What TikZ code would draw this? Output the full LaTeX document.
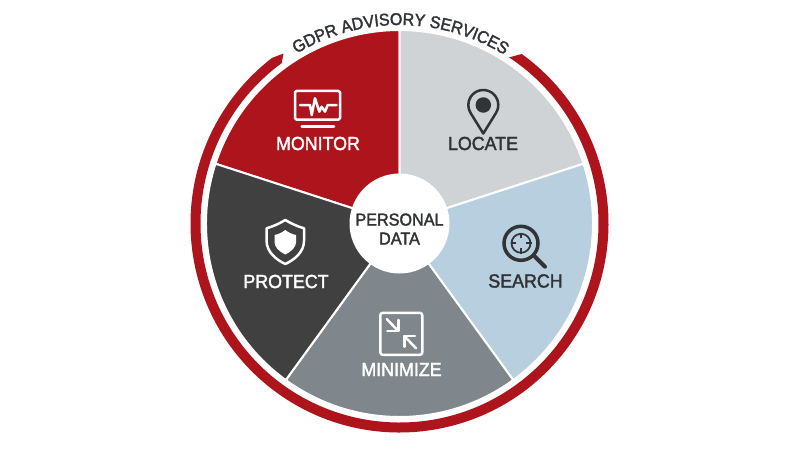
\documentclass[tikz,border=0pt]{standalone}
\usepackage{fontspec}
\setmainfont{Liberation Sans}
\newfontfamily\labelfont[FakeBold=2,FakeStretch=0.94]{Liberation Sans}
\usetikzlibrary{decorations.text}
\definecolor{ringred}{HTML}{AE141C}
\definecolor{locategray}{HTML}{CFD3D6}
\definecolor{searchblue}{HTML}{B7CFDF}
\definecolor{minimizegray}{HTML}{7F878D}
\definecolor{protectdark}{HTML}{404040}
\definecolor{inkdark}{HTML}{313336}
\def\wedgepart[#1](#2:#3){\draw[#1, draw=white, line width=0.4mm] (0, 0) -- (#2:3.87) arc (#2:#3:3.87) -- cycle;}
\tikzset{
	wedgelabel/.style={font=\labelfont\fontsize{10.8}{10.8}\selectfont},
	iconline/.style={line width=0.5mm, line cap=round, line join=round},
}

\begin{document}
\begin{tikzpicture}
		%%%%% START %%%%%
		\useasboundingbox (-7.99, -4.53) rectangle (8.01, 4.47);
		
		\wedgepart[fill=ringred](90:162);
		\wedgepart[fill=locategray](18:90);
		\wedgepart[fill=searchblue](-54:18);
		\wedgepart[fill=minimizegray](-126:-54);
		\wedgepart[fill=protectdark](162:234);
		
		\fill[ringred] (54.2:4.18) arc (54.2:-232.4:4.18) -- (-2.32, 3.40) -- (126.3:3.98) arc (-233.7:56.6:3.98) -- cycle;
		
		\path[decorate, decoration={text along path, text align=center, text={|\labelfont\fontsize{9.7}{9.7}\selectfont\color{inkdark}|GDPR ADVISORY SERVICES}}] (120.9:3.97) arc (120.9:58.4:3.97);
		
		\node[circle, fill=white, minimum size=2cm, inner sep=0pt] (personal) at (0, 0) {};
		\node[align=center, text=inkdark, font=\labelfont\fontsize{9.8}{10.8}\selectfont] (personaldata) at (0, -0.11) {PERSONAL\\DATA};
		
		\node[wedgelabel, text=white] (monitor) at (-1.63, 1.6) {MONITOR};
		\node[wedgelabel, text=inkdark] (locate) at (1.67, 1.6) {LOCATE};
		\node[wedgelabel, text=inkdark] (search) at (2.52, -1.15) {SEARCH};
		\node[wedgelabel, text=white] (minimize) at (0.04, -2.92) {MINIMIZE};
		\node[wedgelabel, text=white] (protect) at (-2.27, -1.16) {PROTECT};
		
		% monitor
		\draw[iconline, white, rounded corners=0.3mm] (-2.09, 2.077) rectangle (-1.19, 2.651);
		\draw[iconline, white] (-1.956, 1.936) -- (-1.31, 1.936);
		\draw[iconline, white] (-1.99, 2.37) -- (-1.79, 2.37) -- (-1.756, 2.17) -- (-1.69, 2.504) -- (-1.604, 2.236) -- (-1.556, 2.336) -- (-1.49, 2.236) -- (-1.436, 2.37) -- (-1.256, 2.37);
		
		% locate
		\draw[iconline, inkdark] (1.676, 1.80) -- (1.930, 2.211) arc (-32:212:0.3) -- cycle;
		\fill[inkdark] (1.676, 2.37) circle (0.155);
		
		% search
		\draw[line width=0.7mm, inkdark] (2.43, -0.396) circle (0.34);
		\draw[line width=0.35mm, inkdark] (2.43, -0.396) circle (0.19);
		\draw[line width=0.35mm, inkdark] (2.43, -0.186) -- (2.43, -0.296);
		\draw[line width=0.35mm, inkdark] (2.43, -0.606) -- (2.43, -0.496);
		\draw[line width=0.35mm, inkdark] (2.22, -0.396) -- (2.33, -0.396);
		\draw[line width=0.35mm, inkdark] (2.64, -0.396) -- (2.53, -0.396);
		\draw[line width=0.8mm, inkdark, line cap=round] (2.71, -0.664) -- (2.91, -0.864);
		
		% minimize
		\draw[iconline, white, rounded corners=0.5mm] (-0.384, -2.626) rectangle (0.456, -1.786);
		\draw[iconline, white] (-0.256, -1.91) -- (-0.024, -2.15);
		\draw[iconline, white] (-0.024, -1.93) -- (-0.024, -2.15) -- (-0.244, -2.15);
		\draw[iconline, white] (0.33, -2.496) -- (0.096, -2.25);
		\draw[iconline, white] (0.096, -2.464) -- (0.096, -2.25) -- (0.31, -2.25);
		
		% protect
		\draw[iconline, white] (-2.284, 0.07) .. controls (-2.4, 0) and (-2.53, -0.06) .. (-2.658, -0.096) -- (-2.658, -0.35) .. controls (-2.658, -0.56) and (-2.48, -0.72) .. (-2.284, -0.81) .. controls (-2.088, -0.72) and (-1.91, -0.56) .. (-1.91, -0.35) -- (-1.91, -0.096) .. controls (-2.038, -0.06) and (-2.168, 0) .. cycle;
		\fill[white] (-2.284, -0.13) .. controls (-2.35, -0.18) and (-2.42, -0.215) .. (-2.50, -0.23) -- (-2.50, -0.37) .. controls (-2.50, -0.47) and (-2.41, -0.56) .. (-2.284, -0.62) .. controls (-2.158, -0.56) and (-2.068, -0.47) .. (-2.068, -0.37) -- (-2.068, -0.23) .. controls (-2.148, -0.215) and (-2.218, -0.18) .. cycle;
		
		%%%%% END %%%%%
	\end{tikzpicture}
\end{document}
